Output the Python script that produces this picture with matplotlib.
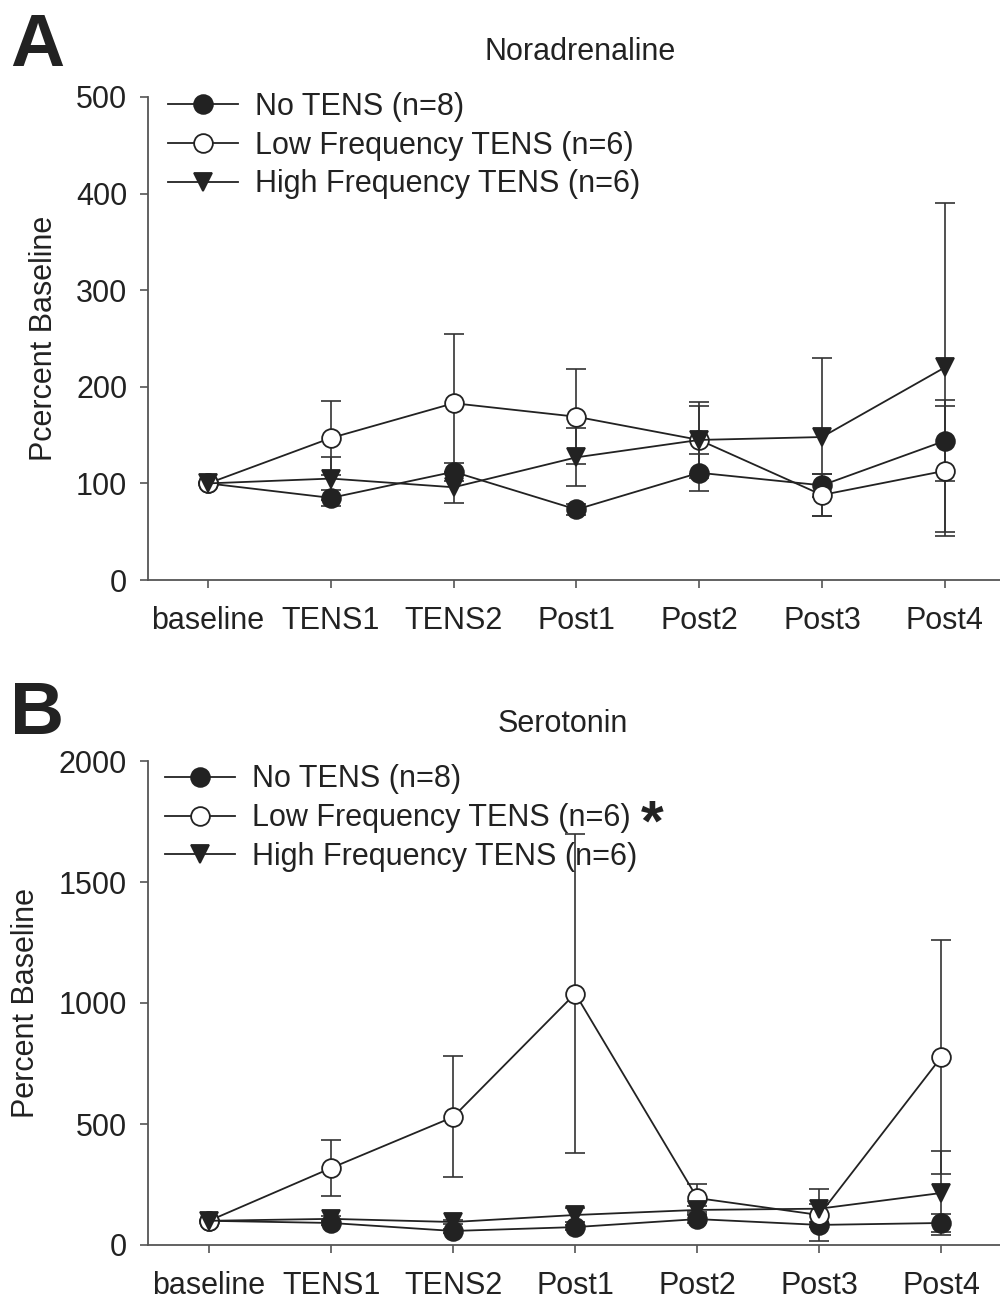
import matplotlib
matplotlib.use("Agg")
import matplotlib.pyplot as plt
import numpy as np

plt.rcParams['font.family'] = ['Liberation Sans', 'DejaVu Sans']

timepoints = ["baseline", "TENS1", "TENS2", "Post1", "Post2", "Post3", "Post4"]
series_labels = ["No TENS (n=8)", "Low Frequency TENS (n=6)", "High Frequency TENS (n=6)"]

# Panel A: Noradrenaline (% baseline, mean and SEM)
na_no_tens = [100, 85, 112, 73, 111, 98, 144]
na_no_tens_err = [0, 8, 9, 6, 19, 12, 42]
na_low = [100, 147, 183, 169, 145, 88, 113]
na_low_err = [0, 38, 72, 49, 39, 22, 67]
na_high = [100, 105, 96, 127, 145, 148, 220]
na_high_err = [0, 22, 16, 30, 35, 82, 170]

# Panel B: Serotonin (% baseline, mean and SEM)
ht_no_tens = [100, 91, 58, 74, 107, 83, 91]
ht_no_tens_err = [0, 10, 10, 10, 15, 10, 37]
ht_low = [100, 318, 529, 1039, 194, 124, 777]
ht_low_err = [0, 117, 250, 658, 58, 107, 485]
ht_high = [100, 108, 95, 124, 145, 150, 215]
ht_high_err = [0, 10, 10, 29, 15, 20, 173]

ink = "#222222"
err_c = "#333333"
spine_c = "#555555"
FS = 22

fig = plt.figure(figsize=(10, 13), dpi=100)

def panel(ax, data, errs, ylim, yticks, ylabel, ylabel_x, xlim, leg_anchor):
    x = np.arange(len(timepoints))
    styles = [
        dict(marker="o", mfc=ink, mec=ink),
        dict(marker="o", mfc="white", mec=ink),
        dict(marker="v", mfc=ink, mec=ink),
    ]
    handles = []
    for vals, er, st, lab in zip(data, errs, styles, series_labels):
        ax.errorbar(x, vals, yerr=er, color=err_c, ecolor=err_c, elinewidth=1.2,
                    capsize=7, capthick=1.2, linestyle="none", marker="none", zorder=2)
        ln, = ax.plot(x, vals, color=ink, lw=1.3, markersize=13.5, mew=1.3,
                      label=lab, zorder=3, **st)
        handles.append(ln)
    ax.set_xlim(*xlim)
    ax.set_ylim(*ylim)
    ax.set_yticks(yticks)
    ax.set_xticks(x)
    ax.set_xticklabels(timepoints)
    for s in ["top", "right"]:
        ax.spines[s].set_visible(False)
    for s in ["left", "bottom"]:
        ax.spines[s].set_color(spine_c)
        ax.spines[s].set_linewidth(1.3)
    ax.tick_params(axis="both", direction="out", length=5.5, width=1.2, color=spine_c,
                   labelsize=FS, labelcolor="#222222")
    ax.tick_params(axis="x", pad=13)
    ax.tick_params(axis="y", pad=9.5)
    ax.set_ylabel(ylabel, fontsize=FS, color="#222222")
    ax.yaxis.set_label_coords(ylabel_x, 0.5)
    leg = ax.legend(handles=handles, loc="upper left", bbox_to_anchor=leg_anchor,
                    frameon=False, fontsize=FS, handlelength=2.29, handletextpad=0.556,
                    labelspacing=0.29, borderpad=0, borderaxespad=0)
    for t in leg.get_texts():
        t.set_color("#222222")
    return ax, leg

axA = fig.add_axes([0.148, 1 - 580 / 1300, 0.852, (580 - 97) / 1300])
panel(axA, [na_no_tens, na_low, na_high], [na_no_tens_err, na_low_err, na_high_err],
      (0, 500), [0, 100, 200, 300, 400, 500], "Pcercent Baseline",
      -0.104, (-0.49, 6.45), (0.0235, 1.011))

axB = fig.add_axes([0.148, 1 - 1245 / 1300, 0.852, (1245 - 761) / 1300])
panel(axB, [ht_no_tens, ht_low, ht_high], [ht_no_tens_err, ht_low_err, ht_high_err],
      (0, 2000), [0, 500, 1000, 1500, 2000], "Percent Baseline",
      -0.125, (-0.5, 6.48), (0.020, 0.993))

fig.text(0.580, 1 - 52 / 1300, "Noradrenaline", fontsize=FS, va="center", ha="center", color="#222222")
fig.text(0.563, 1 - 724 / 1300, "Serotonin", fontsize=FS, va="center", ha="center", color="#222222")

fig.text(0.010, 1 - 12 / 1300, "A", fontsize=54, fontweight="bold", va="top", ha="left", color="#222222")
fig.text(0.010, 1 - 680 / 1300, "B", fontsize=54, fontweight="bold", va="top", ha="left", color="#222222")
fig.text(0.652, 1 - 826 / 1300, "*", fontsize=42, fontweight="bold", va="center", ha="center", color="#222222")

fig.savefig("out.png", dpi=100)
